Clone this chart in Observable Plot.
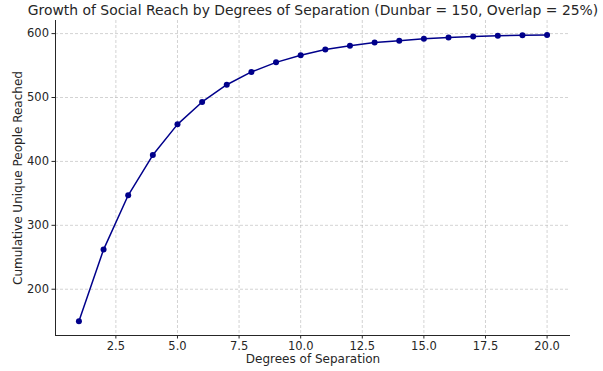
<!DOCTYPE html>
<html><head><meta charset="utf-8">
<script src="https://cdn.jsdelivr.net/npm/d3@7"></script>
<script src="https://cdn.jsdelivr.net/npm/@observablehq/plot@0.6"></script>
<style>body{margin:0;background:#fff;}</style>
</head><body><div id="chart"></div>
<script>
const degrees = [1, 2, 3, 4, 5, 6, 7, 8, 9, 10, 11, 12, 13, 14, 15, 16, 17, 18, 19, 20];
const reach = [150, 262, 347, 410, 458, 493, 520, 540, 555, 566, 575, 581, 586, 589, 592, 594, 595.5, 596.5, 597.5, 598];
const xTicks = [2.5, 5.0, 7.5, 10.0, 12.5, 15.0, 17.5, 20.0];
const yTicks = [200, 300, 400, 500, 600];
const titleText = "Growth of Social Reach by Degrees of Separation (Dunbar = 150, Overlap = 25%)";
const xLabel = "Degrees of Separation";
const yLabel = "Cumulative Unique People Reached";

const data = degrees.map((d, i) => ({degree: d, reach: reach[i]}));
const xDomain = [0.05, 20.95];
const yDomain = [127.6, 620.5];
const ink = "#262626";
const gridStyle = {stroke: "#b0b0b0", strokeOpacity: 0.7, strokeDasharray: "3,2", strokeWidth: 0.8};

const chart = Plot.plot({
  width: 603, height: 371,
  marginLeft: 55, marginRight: 33, marginTop: 20, marginBottom: 36,
  style: {fontFamily: "DejaVu Sans", fontSize: "11.5px", color: ink, background: "#fff"},
  x: {domain: xDomain, label: null},
  y: {domain: yDomain, label: null},
  marks: [
    Plot.gridX(xTicks, gridStyle),
    Plot.gridY(yTicks, gridStyle),
    Plot.axisX(xTicks, {tickSize: 3.5, tickPadding: 3, tickFormat: d3.format(".1f"), label: null, stroke: ink, fill: ink}),
    Plot.axisY(yTicks, {tickSize: 3.5, tickPadding: 3, label: null, stroke: ink, fill: ink}),
    Plot.ruleX([xDomain[0]], {stroke: ink, strokeWidth: 1}),
    Plot.ruleY([yDomain[0]], {stroke: ink, strokeWidth: 1}),
    Plot.line(data, {x: "degree", y: "reach", stroke: "#00008b", strokeWidth: 1.5}),
    Plot.dot(data, {x: "degree", y: "reach", r: 3, fill: "#00008b", stroke: "none"}),
    Plot.text([titleText], {frameAnchor: "top", textAnchor: "middle", lineAnchor: "middle", dy: -10, fontSize: 13.9, fill: ink}),
    Plot.text([xLabel], {frameAnchor: "bottom", textAnchor: "middle", lineAnchor: "middle", dy: 24, fontSize: 12, fill: ink}),
    Plot.text([yLabel], {frameAnchor: "left", textAnchor: "middle", lineAnchor: "middle", rotate: -90, dx: -37, fontSize: 12, fill: ink})
  ]
});
document.getElementById("chart").append(chart);
</script>
</body></html>
